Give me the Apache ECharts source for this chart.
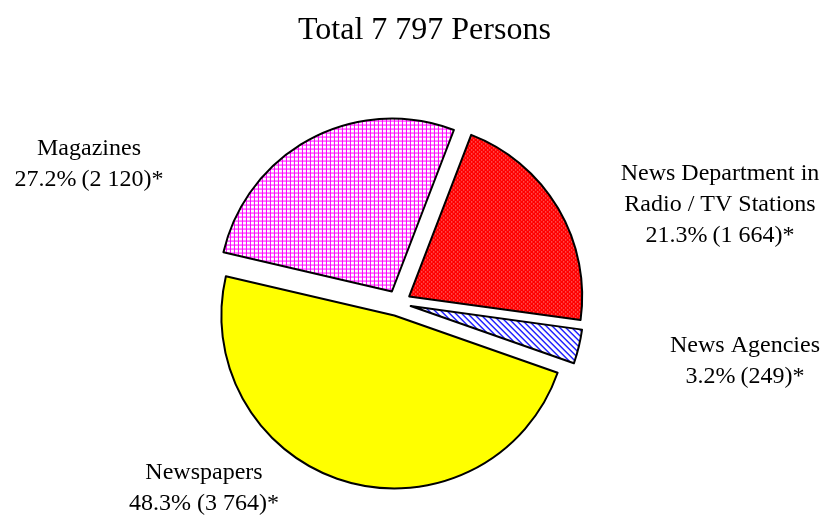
<!DOCTYPE html>
<html>
<head>
<meta charset="utf-8">
<script src="https://cdn.jsdelivr.net/npm/echarts@6/dist/echarts.min.js"></script>
<style>
  html, body { margin: 0; padding: 0; background: #ffffff; }
  #chart { width: 822px; height: 517px; }
</style>
</head>
<body>
<div id="chart"></div>
<script>
// Employment in news media, by type of outlet
const titleText = 'Total 7 797 Persons';
const categories = ['News Department in\nRadio / TV Stations', 'News Agencies', 'Newspapers', 'Magazines'];
const persons = [1664, 249, 3764, 2120];

// Fill patterns drawn on small tiles
function tile(w, h, draw) {
  const c = document.createElement('canvas');
  c.width = w; c.height = h;
  const g = c.getContext('2d');
  draw(g, w, h);
  return c;
}
const redDots = tile(4, 4, (g) => {
  g.fillStyle = '#ff0000'; g.fillRect(0, 0, 4, 4);
  g.fillStyle = '#ffb0b0'; g.fillRect(0, 0, 1, 1); g.fillRect(2, 2, 1, 1);
});
const blueStripes = tile(6, 6, (g) => {
  g.fillStyle = '#ffffff'; g.fillRect(0, 0, 6, 6);
  g.fillStyle = '#1a1aff';
  for (let i = 0; i < 6; i++) { g.fillRect(i, i, 1, 1); g.fillRect((i + 1) % 6, i, 1, 1); }
});
const magentaGrid = tile(4, 4, (g) => {
  g.fillStyle = '#ffffff'; g.fillRect(0, 0, 4, 4);
  g.fillStyle = '#ff00ff'; g.fillRect(0, 0, 4, 1); g.fillRect(0, 0, 1, 4);
});
const fills = [
  { image: redDots, repeat: 'repeat' },
  { image: blueStripes, repeat: 'repeat' },
  '#ffff00',
  { image: magentaGrid, repeat: 'repeat' }
];
// Label centres around the pie and the gap between percent and count
const labelSpots = [[720, 205], [745, 361], [204, 488], [89, 164]];
const gaps = ['\u2009', '\u2009', ' ', '\u2009'];

const total = persons.reduce((a, b) => a + b, 0);
function fmtNum(n) { return String(n).replace(/\B(?=(\d{3})+(?!\d))/g, ' '); }
function labelText(i) {
  const pct = (persons[i] / total * 100).toFixed(1);
  return categories[i] + '\n' + pct + '%' + gaps[i] + '(' + fmtNum(persons[i]) + ')*';
}

const labelFont = { fontFamily: 'Liberation Serif', fontSize: 24, lineHeight: 31, fill: '#000' };

const chart = echarts.init(document.getElementById('chart'), null, { renderer: 'canvas' });
chart.setOption({
  animation: false,
  backgroundColor: '#ffffff',
  title: {
    text: titleText,
    left: 293,
    top: 10,
    textStyle: { fontFamily: 'Liberation Serif', fontSize: 32, fontWeight: 'normal', color: '#000' }
  },
  graphic: categories.map((c, i) => ({
    type: 'text',
    x: labelSpots[i][0],
    y: labelSpots[i][1],
    silent: true,
    style: Object.assign({
      text: labelText(i),
      align: 'center',
      verticalAlign: 'middle'
    }, labelFont)
  })),
  series: [{
    type: 'pie',
    center: [398, 303],
    radius: 173,
    startAngle: 69,
    clockwise: true,
    silent: true,
    selectedMode: 'multiple',
    selectedOffset: 13,
    itemStyle: { borderColor: '#000', borderWidth: 2 },
    label: { show: false },
    labelLine: { show: false },
    data: categories.map((name, i) => ({
      name: name,
      value: persons[i],
      selected: true,
      itemStyle: { color: fills[i] },
      select: { itemStyle: { color: fills[i], borderColor: '#000', borderWidth: 2 } }
    }))
  }]
});
</script>
</body>
</html>
